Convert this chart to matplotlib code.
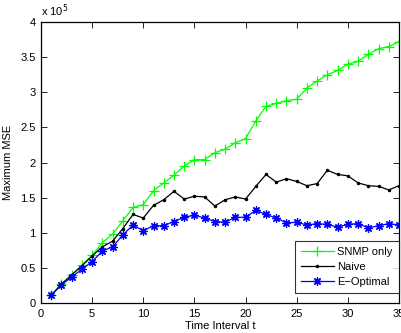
import matplotlib
matplotlib.use("Agg")
import matplotlib.pyplot as plt
from matplotlib.ticker import FuncFormatter

plt.rcParams['font.family'] = ['Liberation Sans', 'DejaVu Sans']

t = list(range(1, 36))
snmp_only = [0.11, 0.27, 0.40, 0.54, 0.68, 0.86, 0.98, 1.17, 1.36, 1.40,
             1.60, 1.71, 1.82, 1.95, 2.04, 2.04, 2.14, 2.19, 2.28, 2.34,
             2.59, 2.80, 2.84, 2.88, 2.90, 3.06, 3.16, 3.25, 3.31, 3.40,
             3.44, 3.54, 3.62, 3.65, 3.72]
naive = [0.11, 0.27, 0.40, 0.53, 0.67, 0.80, 0.88, 1.06, 1.26, 1.21,
         1.39, 1.47, 1.59, 1.48, 1.52, 1.51, 1.38, 1.47, 1.51, 1.48,
         1.66, 1.83, 1.72, 1.77, 1.73, 1.67, 1.70, 1.89, 1.83, 1.81,
         1.71, 1.67, 1.66, 1.61, 1.67]
e_optimal = [0.11, 0.26, 0.37, 0.48, 0.59, 0.74, 0.80, 0.97, 1.11, 1.03,
             1.10, 1.10, 1.16, 1.22, 1.25, 1.21, 1.16, 1.15, 1.22, 1.22,
             1.32, 1.26, 1.21, 1.14, 1.15, 1.11, 1.13, 1.12, 1.08, 1.12,
             1.13, 1.07, 1.10, 1.13, 1.11]
scale = 1e5
labels = ["SNMP only", "Naive", "E\u2212Optimal"]

fig = plt.figure(figsize=(4.02, 3.33), dpi=100)
ax = fig.add_axes([0.102, 0.090, 0.8905, 0.844])

ax.plot(t, [v * scale for v in snmp_only], color=(0, 1, 0), marker="+",
        markersize=6.5, linewidth=0.9, markeredgewidth=0.9, label=labels[0])
ax.plot(t, [v * scale for v in naive], color="black", marker=".",
        markersize=3, linewidth=0.9, label=labels[1])
ax.plot(t, [v * scale for v in e_optimal], color=(0, 0, 1), marker=(8, 2, 0),
        markersize=6, linewidth=0.9, markeredgewidth=0.9, label=labels[2])

ax.set_xlim(0, 35)
ax.set_ylim(0, 4 * scale)
ax.set_xticks([0, 5, 10, 15, 20, 25, 30, 35])
ax.set_yticks([i * 0.5 * scale for i in range(9)])
ax.yaxis.set_major_formatter(FuncFormatter(lambda v, p: "%g" % (v / scale)))
ax.tick_params(direction="in", top=True, right=True, labelsize=8, length=4,
               width=0.6, pad=4)
for s in ax.spines.values():
    s.set_linewidth(0.9)

ax.set_xlabel("Time Interval t", fontsize=8, labelpad=1.5)
ax.set_ylabel("Maximum MSE", fontsize=8, labelpad=5)
ax.text(0.0, 1.012, "x 10$^5$", transform=ax.transAxes, fontsize=8,
        ha="left", va="bottom")

leg = ax.legend(loc="lower right", bbox_to_anchor=(1.0, 0.036),
                fontsize=8, frameon=True, fancybox=False,
                edgecolor="black", borderaxespad=0.0, handlelength=3.0,
                handletextpad=0.3, labelspacing=0.45, borderpad=0.55)
leg.get_frame().set_linewidth(0.8)

fig.savefig("out.png", dpi=100)
